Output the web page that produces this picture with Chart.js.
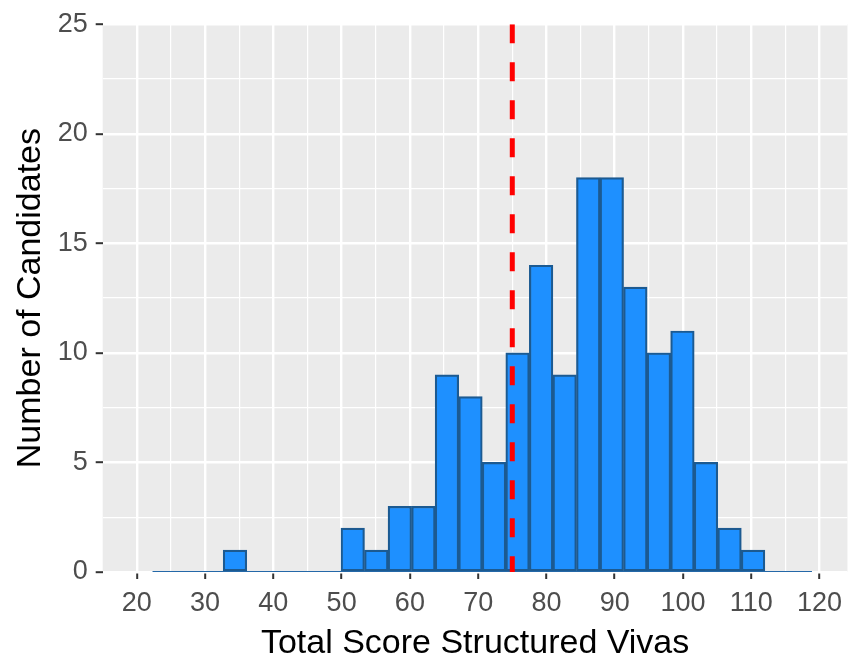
<!DOCTYPE html>
<html>
<head>
<meta charset="utf-8">
<script src="https://cdn.jsdelivr.net/npm/chart.js@4.4.1/dist/chart.umd.min.js"></script>
<style>
  html, body { margin: 0; padding: 0; background: #ffffff; }
  #wrap { width: 850px; height: 662px; }
</style>
</head>
<body>
<div id="wrap"><canvas id="hist" width="850" height="662"></canvas></div>
<script>
// bin edges and counts
const binEdges = [22.3, 25.75, 29.2, 32.65, 36.1, 39.55, 43.0, 46.45, 49.9, 53.35,
                  56.8, 60.25, 63.7, 67.15, 70.6, 74.05, 77.5, 80.95, 84.4, 87.85,
                  91.3, 94.75, 98.2, 101.65, 105.1, 108.55, 112.0, 115.45, 118.9];
const counts = [0, 0, 0, 1, 0, 0, 0, 0, 2, 1,
                3, 3, 9, 8, 5, 10, 14, 9, 18, 18,
                13, 10, 11, 5, 2, 1, 0, 0];
const cutScore = 75;

const xTicks = [20, 30, 40, 50, 60, 70, 80, 90, 100, 110, 120];
const xMinor = [25, 35, 45, 55, 65, 75, 85, 95, 105, 115];
const yTicks = [0, 5, 10, 15, 20, 25];
const yMinor = [2.5, 7.5, 12.5, 17.5, 22.5];

const fontFamily = '"Liberation Sans", Arial, sans-serif';

// histogram bars centred on each bin
const barData = counts.map((c, i) => ({ x: (binEdges[i] + binEdges[i + 1]) / 2, y: c }));

const panelBg = {
    id: 'panelBg',
    beforeDraw(chart) {
        const { ctx, chartArea: a } = chart;
        ctx.save();
        ctx.fillStyle = '#EBEBEB';
        ctx.fillRect(a.left, a.top, a.right - a.left, a.bottom - a.top);
        ctx.restore();
    }
};

function gridScale(major, minor) {
    const isMajor = c => !!(c && c.tick && major.includes(c.tick.value));
    return {
        offset: false,
        afterBuildTicks: s => {
            s.ticks = major.concat(minor).sort((a, b) => a - b).map(v => ({ value: v }));
        },
        grid: {
            offset: false,
            color: '#FFFFFF',
            lineWidth: c => (isMajor(c) ? 2.4 : 1.2),
            tickColor: c => (isMajor(c) ? '#333333' : 'rgba(0,0,0,0)'),
            tickWidth: 2,
            tickLength: 7
        },
        border: { display: false },
        ticks: {
            autoSkip: false,
            maxRotation: 0,
            color: '#4D4D4D',
            font: { family: fontFamily, size: 27 },
            callback: v => (major.includes(v) ? String(v) : '')
        }
    };
}

const xOpts = gridScale(xTicks, xMinor);
xOpts.type = 'linear';
xOpts.min = 15;
xOpts.max = 124.1;
xOpts.ticks.padding = 8;
xOpts.afterFit = s => { s.height = 90; };
xOpts.title = {
    display: true,
    text: 'Total Score Structured Vivas',
    color: '#000000',
    font: { family: fontFamily, size: 34, lineHeight: 1 },
    padding: { top: 0, bottom: 1 }
};

const yOpts = gridScale(yTicks, yMinor);
yOpts.min = 0;
yOpts.max = 25;
yOpts.ticks.padding = 8;
yOpts.afterFit = s => { s.width = 102.7; };
yOpts.title = {
    display: true,
    text: 'Number of Candidates',
    color: '#000000',
    font: { family: fontFamily, size: 34, lineHeight: 1 },
    padding: { top: 14, bottom: 0 }
};

new Chart(document.getElementById('hist'), {
    type: 'bar',
    data: {
        datasets: [
            {
                type: 'line',
                data: [{ x: cutScore, y: 25 }, { x: cutScore, y: 0 }],
                borderColor: '#FF0000',
                borderWidth: 5,
                borderDash: [19, 19],
                pointRadius: 0,
                order: 0
            },
            {
                type: 'line',
                data: [{ x: binEdges[0], y: 0 }, { x: binEdges[binEdges.length - 1], y: 0 }],
                borderColor: '#2468A8',
                borderWidth: 2.2,
                pointRadius: 0,
                order: 1
            },
            {
                data: barData,
                backgroundColor: '#1E90FF',
                borderColor: '#1C5A91',
                borderWidth: 2.2,
                borderSkipped: false,
                barPercentage: 1,
                categoryPercentage: 1,
                order: 2
            }
        ]
    },
    options: {
        responsive: false,
        animation: false,
        layout: { padding: { top: 23, left: 0, right: 0, bottom: 0 } },
        plugins: {
            legend: { display: false },
            tooltip: { enabled: false }
        },
        scales: { x: xOpts, y: yOpts }
    },
    plugins: [panelBg]
});
</script>
</body>
</html>
